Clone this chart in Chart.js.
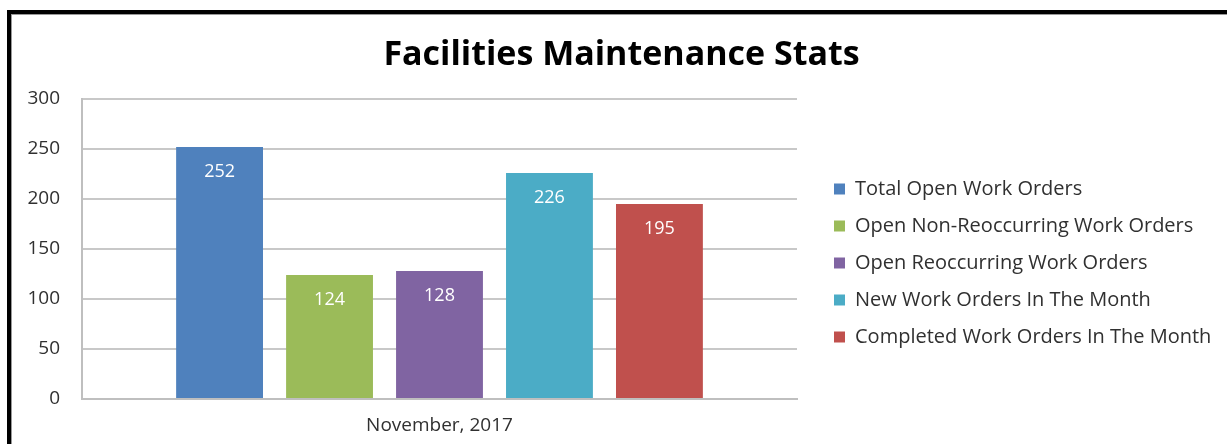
<!DOCTYPE html>
<html>
<head>
<meta charset="utf-8">
<script src="https://cdn.jsdelivr.net/npm/chart.js@4/dist/chart.umd.min.js"></script>
<style>
  html, body { margin: 0; padding: 0; background: #fff; overflow: hidden; }
  #frame { position: absolute; left: 7px; top: 10px; width: 1400px; height: 600px;
           border-left: 4px solid #000; border-top: 4px solid #000;
           box-shadow: inset 1px 1px 0 #999; }
  #wrap { position: absolute; left: 0; top: 0; width: 1227px; height: 444px; }
</style>
</head>
<body>
<div id="frame"></div>
<div id="wrap"><canvas id="c" width="1227" height="444"></canvas></div>
<script>
const categories = ["November, 2017"];
const seriesNames = [
  "Total Open Work Orders",
  "Open Non-Reoccurring Work Orders",
  "Open Reoccurring Work Orders",
  "New Work Orders In The Month",
  "Completed Work Orders In The Month"
];
const seriesValues = [252, 124, 128, 226, 195];
const seriesColors = ["#4F81BD", "#9BBB59", "#8064A2", "#4BACC6", "#C0504D"];
const yTicks = [0, 50, 100, 150, 200, 250, 300];

const FONT = "'Open Sans', 'DejaVu Sans', sans-serif";

const datasets = seriesNames.map((name, i) => ({
  label: name,
  data: [seriesValues[i]],
  backgroundColor: seriesColors[i],
  borderColor: seriesColors[i],
  borderWidth: 0,
  categoryPercentage: 0.769,
  barPercentage: 0.79,
  yAxisID: 'y'
}));

const valueLabels = {
  id: 'valueLabels',
  afterDatasetsDraw(chart) {
    const ctx = chart.ctx;
    ctx.save();
    ctx.fillStyle = '#ffffff';
    ctx.font = "18px " + FONT;
    ctx.textAlign = 'center';
    ctx.textBaseline = 'middle';
    chart.data.datasets.forEach((ds, i) => {
      const meta = chart.getDatasetMeta(i);
      meta.data.forEach((bar, j) => {
        ctx.fillText(String(ds.data[j]), bar.x, bar.y + 25);
      });
    });
    ctx.restore();
  }
};

new Chart(document.getElementById('c'), {
  type: 'bar',
  data: { labels: categories, datasets },
  options: {
    responsive: false,
    animation: false,
    devicePixelRatio: 1,
    layout: { padding: { left: 22, right: 6, top: 0, bottom: 0 } },
    plugins: {
      title: {
        display: true,
        text: "Facilities Maintenance Stats",
        color: '#000',
        font: { family: FONT, size: 34, weight: 'bold' },
        padding: { top: 35, bottom: 23.2 }
      },
      legend: {
        display: true,
        position: 'right',
        align: 'start',
        maxWidth: 404,
        title: {
          display: true,
          text: ' ',
          font: { family: FONT, size: 10 },
          padding: { top: 150, bottom: 0 }
        },
        labels: {
          boxWidth: 11,
          boxHeight: 11,
          padding: 17,
          color: '#303030',
          font: { family: FONT, size: 20 }
        }
      },
      tooltip: { enabled: false }
    },
    scales: {
      x: {
        grid: { display: false, drawTicks: false },
        border: { display: true, color: '#bfbfbf', width: 2 },
        ticks: { color: '#303030', padding: 15, font: { family: FONT, size: 19 } },
        afterFit(scale) { scale.height = 45; }
      },
      y: {
        min: 0, max: 300,
        afterBuildTicks(scale) { scale.ticks = yTicks.map(v => ({ value: v })); },
        grid: { color: '#c8c8c8', lineWidth: 2, drawTicks: false },
        border: { display: true, color: '#bfbfbf', width: 2 },
        ticks: { color: '#303030', padding: 22, font: { family: FONT, size: 19 } },
        afterFit(scale) { scale.width = 60; }
      },
      spacer: {
        position: 'right',
        display: true,
        grid: { display: false, drawTicks: false },
        border: { display: false },
        ticks: { display: false },
        afterFit(scale) { scale.width = 20; }
      }
    }
  },
  plugins: [valueLabels]
});
</script>
</body>
</html>
